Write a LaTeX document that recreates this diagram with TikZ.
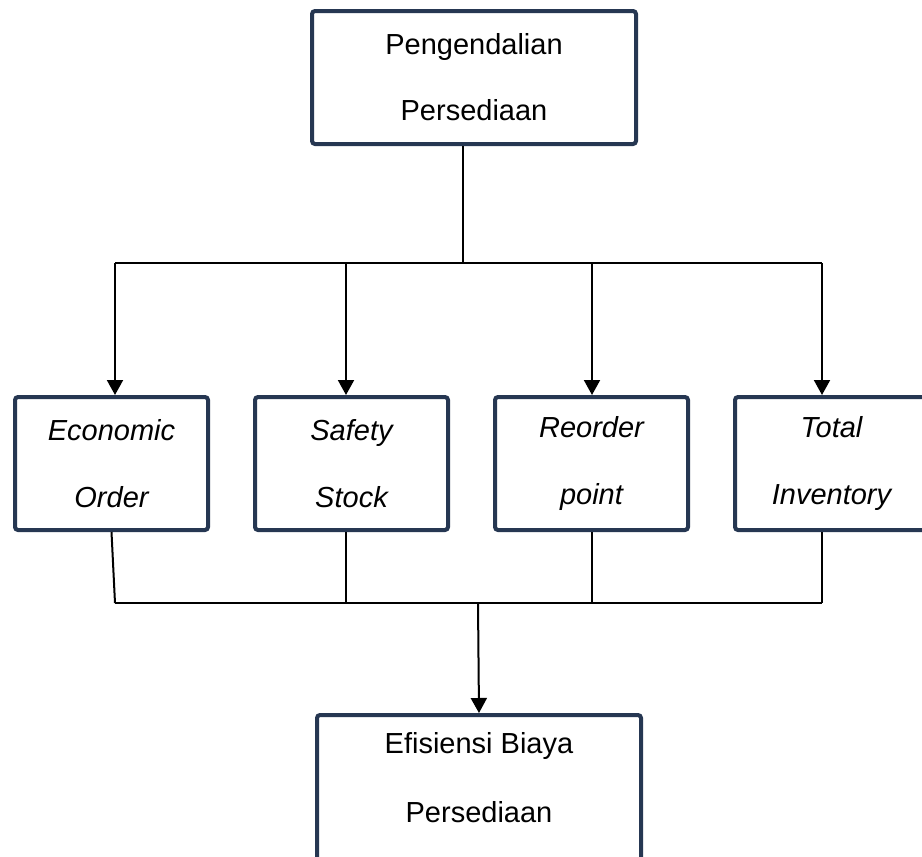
\documentclass[tikz,border=0pt]{standalone}
\usepackage{fontspec}
\setmainfont{Liberation Sans}
\usetikzlibrary{arrows.meta,positioning}
\definecolor{pdedge}{RGB}{38,55,82}
\definecolor{pdline}{RGB}{0,0,0}
\tikzset{
  pdbox/.style={
    draw=pdedge, line width=2pt, rounded corners=1.5pt, fill=white,
    align=center, inner sep=2pt, font=\fontsize{14.5}{33}\selectfont
  },
  mainbox/.style={pdbox, minimum width=162pt, minimum height=66.5pt},
  subbox/.style={pdbox, minimum width=96.5pt, minimum height=66.5pt,
    font=\fontsize{14.5}{33.5}\selectfont\itshape},
  arr/.style={-{Triangle[length=7.5pt,width=8pt]}, draw=pdline, line width=1pt},
  wire/.style={draw=pdline, line width=1pt}
}
\begin{document}
\begin{tikzpicture}[x=0.5pt, y=-0.5pt, node distance=21.5pt]
  \useasboundingbox (0,0) rectangle (922,857);
  % boxes
  \node[mainbox] (pp) at (474,77.5) {Pengendalian\\Persediaan};
  \node[subbox] (eoq) at (111.5,463.5) {Economic\\Order};
  \node[subbox, right=of eoq] (ss) {Safety\\Stock};
  \node[subbox, right=of ss] (rop) {Reorder\\point};
  \node[subbox, right=of rop] (ti) {Total\\Inventory};
  \node[mainbox, minimum height=97pt, anchor=north,
    font=\fontsize{14.5}{34.5}\selectfont] (eb) at (479,713)
    {Efisiensi Biaya\\Persediaan\\\mbox{}};
  % upper bus
  \coordinate (tj) at (463,263);
  \coordinate (tl) at (115,263);
  \coordinate (tr) at (822,263);
  \coordinate (ts) at (346,263);
  \coordinate (tp) at (592,263);
  \draw[wire] (tj |- pp.south) -- (tj);
  \draw[wire] (tl) -- (tr);
  \draw[arr] (tl) -- (tl |- eoq.north);
  \draw[arr] (ts) -- (ts |- ss.north);
  \draw[arr] (tp) -- (tp |- rop.north);
  \draw[arr] (tr) -- (tr |- ti.north);
  % lower bus
  \coordinate (bl) at (115,603);
  \coordinate (br) at (822,603);
  \coordinate (bj) at (478,603);
  \draw[wire] (eoq.south) -- (bl);
  \draw[wire] (ts |- ss.south) -- (ts |- bl);
  \draw[wire] (tp |- rop.south) -- (tp |- bl);
  \draw[wire] (br |- ti.south) -- (br);
  \draw[wire] (bl) -- (br);
  \draw[arr] (bj) -- (eb.north);
\end{tikzpicture}
\end{document}
